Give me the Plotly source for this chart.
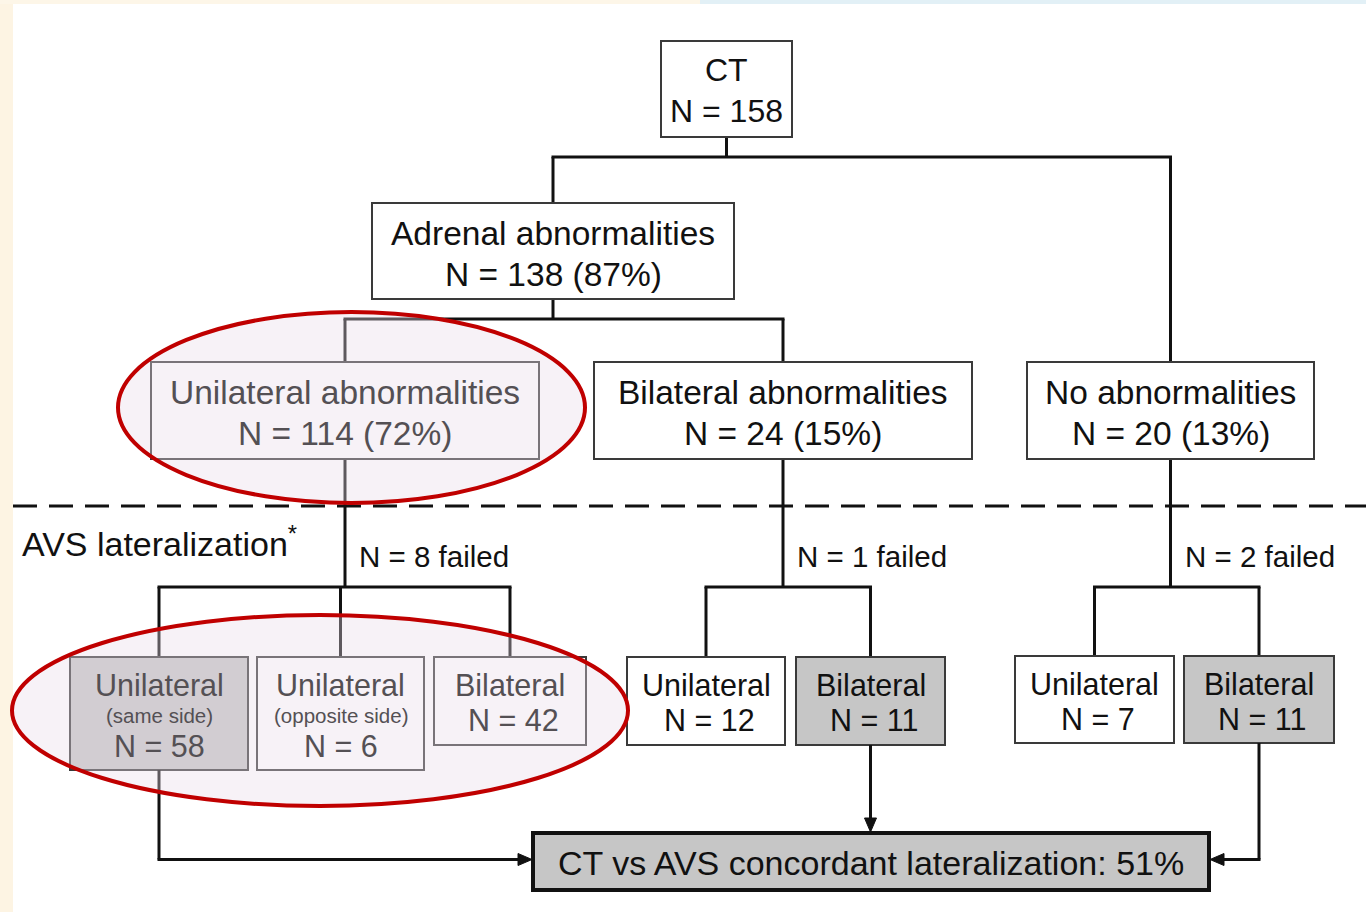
"""CT vs AVS lateralization flowchart."""

import plotly.graph_objects as go

# chart data
node_titles = [
    "CT",
    "Adrenal abnormalities",
    "Unilateral abnormalities",
    "Bilateral abnormalities",
    "No abnormalities",
    "Unilateral",
    "Unilateral",
    "Bilateral",
    "Unilateral",
    "Bilateral",
    "Unilateral",
    "Bilateral",
]
node_notes = ["", "", "", "", "", "(same side)", "(opposite side)", "", "", "", "", ""]
node_counts = [158, 138, 114, 24, 20, 58, 6, 42, 12, 11, 7, 11]
node_percents = [None, 87, 72, 15, 13, None, None, None, None, None, None, None]
failed_counts = [8, 1, 2]
concordance_percent = 51
stage_label = "AVS lateralization"

# page geometry (pixels): x0, x1, y0, y1
boxes = [
    (661, 792, 41, 137),
    (372, 734, 203, 299),
    (151, 539, 362, 459),
    (594, 972, 362, 459),
    (1027, 1314, 362, 459),
    (70, 248, 657, 770),
    (257, 424, 657, 770),
    (434, 586, 657, 745),
    (627, 785, 657, 745),
    (796, 945, 657, 745),
    (1015, 1174, 656, 743),
    (1184, 1334, 656, 743),
]
children = {0: [1, 4], 1: [2, 3], 2: [5, 6, 7], 3: [8, 9], 4: [10, 11]}
bar_y = {0: 157, 1: 319, 2: 587, 3: 587, 4: 587}
failed_parents = [2, 3, 4]
grey_nodes = {5, 9, 11}
faded_nodes = {2, 5, 6, 7}
result_box = (533, 1209, 833, 890)
highlights = [(118, 585, 312, 503), (12, 628, 615, 806)]

FONT = "Liberation Sans, Arial, sans-serif"
INK = "#111111"
FADED_INK = "#545054"
GREY = "#c6c6c6"

W, H = 1366, 912
shapes = []
annotations = []


def cx(i):
    return (boxes[i][0] + boxes[i][1]) / 2


def segment(x0, y0, x1, y1, color=INK, width=3):
    shapes.append(dict(type="line", x0=x0, y0=y0, x1=x1, y1=y1,
                       line=dict(color=color, width=width), layer="above"))


def text(x, y, s, size, color=INK, anchor="center"):
    annotations.append(dict(x=x, y=y, text=s, showarrow=False, xanchor=anchor, yanchor="middle",
                            font=dict(family=FONT, size=size, color=color)))


def head(x, y, dx, dy, length=14, half=6):
    """Filled arrow head with its tip at (x, y), pointing along (dx, dy)."""
    bx, by = x - dx * length, y - dy * length
    px, py = -dy * half, dx * half
    path = f"M {x} {y} L {bx + px} {by + py} L {bx - px} {by - py} Z"
    shapes.append(dict(type="path", path=path, fillcolor=INK, line=dict(color=INK, width=1), layer="above"))


# background strips of the original page
shapes.append(dict(type="rect", x0=0, x1=13, y0=0, y1=H, fillcolor="#fdf4e3", line_width=0, layer="below"))
shapes.append(dict(type="rect", x0=0, x1=700, y0=0, y1=4, fillcolor="#fdf6e8", line_width=0, layer="below"))
shapes.append(dict(type="rect", x0=700, x1=W, y0=0, y1=4, fillcolor="#e2f0f6", line_width=0, layer="below"))

# tree connectors
for parent, kids in children.items():
    py = boxes[parent][3]
    segment(cx(parent), py, cx(parent), bar_y[parent])
    xs = [cx(k) for k in kids]
    segment(min(xs) - 1.5, bar_y[parent], max(xs) + 1.5, bar_y[parent])
    for k in kids:
        segment(cx(k), bar_y[parent], cx(k), boxes[k][2])

# boxes
for i, (x0, x1, y0, y1) in enumerate(boxes):
    fill = GREY if i in grey_nodes else "white"
    shapes.append(dict(type="rect", x0=x0, x1=x1, y0=y0, y1=y1, fillcolor=fill,
                       line=dict(color="#3a3a3a", width=2), layer="above"))

# result box
rx0, rx1, ry0, ry1 = result_box
shapes.append(dict(type="rect", x0=rx0, x1=rx1, y0=ry0, y1=ry1, fillcolor=GREY,
                   line=dict(color=INK, width=4), layer="above"))
text((rx0 + rx1) / 2, (ry0 + ry1) / 2 + 1,
     f"CT vs AVS concordant lateralization: {concordance_percent}%", 34)

# arrows into result box
mid = (ry0 + ry1) / 2 - 2
segment(cx(5), boxes[5][3], cx(5), mid)
segment(cx(5) - 1.5, mid, rx0 - 10, mid)
head(rx0 - 1, mid, 1, 0)
segment(cx(9), boxes[9][3], cx(9), ry0 - 10)
head(cx(9), ry0 - 1, 0, 1)
segment(cx(11), boxes[11][3], cx(11), mid)
segment(cx(11) + 1.5, mid, rx1 + 10, mid)
head(rx1 + 1, mid, -1, 0)

# dashed stage divider
shapes.append(dict(type="line", x0=13, x1=W, y0=506, y1=506,
                   line=dict(color=INK, width=3, dash="24px,12px"), layer="above"))
text(20, 541, stage_label + "<sup>*</sup>", 34, anchor="left")
for parent, n in zip(failed_parents, failed_counts):
    text(cx(parent) + 12, 556, f"N = {n} failed", 29.5, anchor="left")

# highlight ellipses
for x0, x1, y0, y1 in highlights:
    shapes.append(dict(type="circle", x0=x0, x1=x1, y0=y0, y1=y1,
                       fillcolor="rgba(232,218,232,0.36)",
                       line=dict(color="#c00000", width=4), layer="above"))

# node labels
for i, (x0, x1, y0, y1) in enumerate(boxes):
    color = FADED_INK if i in faded_nodes else INK
    x = cx(i)
    count = f"N = {node_counts[i]}"
    if node_percents[i] is not None:
        count += f" ({node_percents[i]}%)"
    if i == 0:
        text(x, y0 + 29, node_titles[i], 32, color)
        text(x, y0 + 70, count, 32, color)
    elif i < 5:
        text(x, y0 + 30, node_titles[i], 33.5, color)
        text(x, y0 + 71, count, 33.5, color)
    elif node_notes[i]:
        text(x, y0 + 28, node_titles[i], 30.5, color)
        text(x, y0 + 58, node_notes[i], 20.5, color)
        text(x, y0 + 89, count, 30.5, color)
    else:
        text(x, y0 + 28, node_titles[i], 30.5, color)
        text(x + 3, y0 + 63, count, 30.5, color)

fig = go.Figure()
fig.update_layout(
    width=W,
    height=H,
    margin=dict(l=0, r=0, t=0, b=0),
    paper_bgcolor="white",
    plot_bgcolor="white",
    showlegend=False,
    shapes=shapes,
    annotations=annotations,
    xaxis=dict(range=[0, W], visible=False, fixedrange=True),
    yaxis=dict(range=[H, 0], visible=False, fixedrange=True),
)

# the page body has a default 8px margin; drop it so the chart fills the window
fig.write_html(
    "out.html",
    config={"displayModeBar": False},
    post_script="document.body.style.margin='0';document.body.style.overflow='hidden';",
)
